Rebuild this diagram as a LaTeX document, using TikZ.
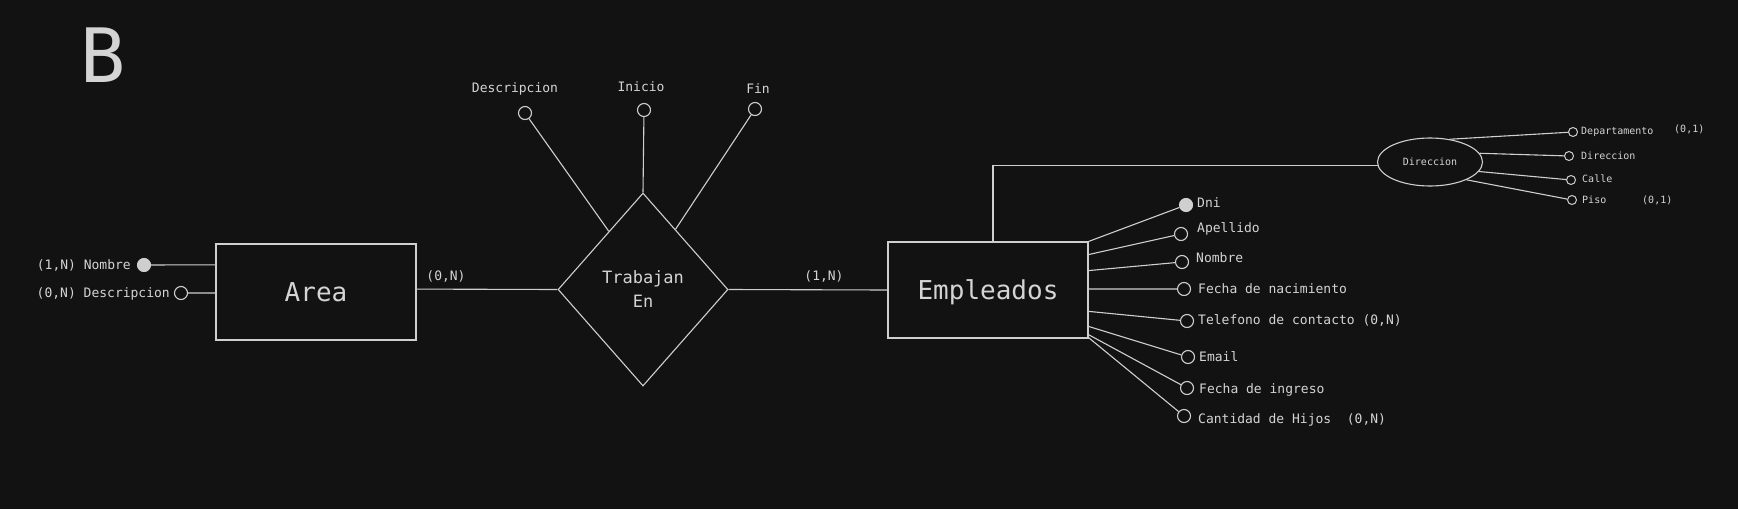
\documentclass[tikz,border=0pt]{standalone}
\usepackage{fontspec}
\setmainfont{DejaVu Sans Mono}
\setmonofont{DejaVu Sans Mono}
\usetikzlibrary{shapes.geometric,calc}
\definecolor{bgcol}{HTML}{121212}
\definecolor{lncol}{HTML}{CFCFCF}
\definecolor{txcol}{HTML}{D4D4D4}
\begin{document}
\begin{tikzpicture}[x=1pt,y=-1pt,
  link/.style={draw=lncol, line width=1.1pt},
  entity/.style={draw=lncol, line width=1.1pt, rectangle, minimum width=200pt, minimum height=96pt, inner sep=0pt, text=txcol, font=\fontsize{26}{30}\selectfont, text height=19pt, text depth=0pt},
  relation/.style={draw=lncol, line width=1.1pt, diamond, minimum width=170pt, minimum height=193pt, inner sep=0pt, align=center, text=txcol, font=\fontsize{17}{24}\selectfont},
  compattr/.style={draw=lncol, line width=1.1pt, ellipse, minimum width=105pt, minimum height=48pt, inner sep=0pt, text=txcol, font=\fontsize{10}{12}\selectfont},
  attr/.style={circle, draw=lncol, line width=1.1pt, minimum size=13pt, inner sep=0pt},
  keyattr/.style={attr, fill=lncol},
  subattr/.style={circle, draw=lncol, line width=1pt, minimum size=9pt, inner sep=0pt},
  lab/.style={inner sep=0pt, text=txcol, font=\fontsize{13}{15}\selectfont},
  slab/.style={inner sep=0pt, text=txcol, font=\fontsize{10}{12}\selectfont}
]
\fill[bgcol] (0,0) rectangle (1738,509);
\useasboundingbox (0,0) rectangle (1738,509);

% title
\node[inner sep=0pt, text=txcol, font=\fontsize{75}{80}\selectfont] (title) at (103,55.5) {B};

% entities and relation
\node[entity] (area) at (316,292) {Area};
\node[entity] (emp) at (988,290) {Empleados};
\node[relation] (rel) at (643,289.5) {Trabajan\\En};
\node[compattr] (dir) at (1430,162) {Direccion};

% Area attributes
\node[keyattr] (anom) at (144,265) {};
\node[attr] (adesc) at (181,293) {};
\node[lab, anchor=base east] (lanom) at (131,269.5) {(1,N) Nombre};
\node[lab, anchor=base east] (ladesc) at (170,297.5) {(0,N) Descripcion};
\draw[link] ($(area.north west)!0.22!(area.south west)$) -- (anom);
\draw[link] ($(area.north west)!0.51!(area.south west)$) -- (adesc);

% relation links
\draw[link] ($(area.north east)!0.47!(area.south east)$) -- (rel.west);
\draw[link] (rel.east) -- (emp.west);
\node[lab, anchor=base] (card1) at (446,280.5) {(0,N)};
\node[lab, anchor=base] (card2) at (824,280.5) {(1,N)};

% relation attributes
\node[attr] (rdesc) at (525,113) {};
\node[attr] (rini) at (644,110) {};
\node[attr] (rfin) at (755,109) {};
\draw[link] (rdesc) -- ($(rel.west)!0.6!(rel.north)$);
\draw[link] (rini) -- (rel.north);
\draw[link] (rfin) -- ($(rel.east)!0.62!(rel.north)$);
\node[lab, anchor=base] (lrdesc) at (515,92.5) {Descripcion};
\node[lab, anchor=base] (lrini) at (641,91.5) {Inicio};
\node[lab, anchor=base] (lrfin) at (758,93.5) {Fin};

% Empleados attributes
\node[keyattr] (edni) at (1186,205) {};
\node[attr] (eape) at (1181,234) {};
\node[attr] (enom) at (1182,262) {};
\node[attr] (efnac) at (1184,289) {};
\node[attr] (etel) at (1187,321) {};
\node[attr] (email) at (1188,357) {};
\node[attr] (efing) at (1187,388) {};
\node[attr] (ehij) at (1184,416) {};
\draw[link] ($(emp.north east)!0.00!(emp.south east)$) -- (edni);
\draw[link] ($(emp.north east)!0.135!(emp.south east)$) -- (eape);
\draw[link] ($(emp.north east)!0.30!(emp.south east)$) -- (enom);
\draw[link] ($(emp.north east)!0.49!(emp.south east)$) -- (efnac);
\draw[link] ($(emp.north east)!0.72!(emp.south east)$) -- (etel);
\draw[link] ($(emp.north east)!0.875!(emp.south east)$) -- (email);
\draw[link] ($(emp.north east)!0.96!(emp.south east)$) -- (efing);
\draw[link] ($(emp.north east)!0.99!(emp.south east)$) -- (ehij);
\node[lab, anchor=base west] (ledni) at (1197,207.5) {Dni};
\node[lab, anchor=base west] (leape) at (1197,232.5) {Apellido};
\node[lab, anchor=base west] (lenom) at (1196,262.5) {Nombre};
\node[lab, anchor=base west] (lefnac) at (1198,293.5) {Fecha de nacimiento};
\node[lab, anchor=base west] (letel) at (1198,324.5) {Telefono de contacto (0,N)};
\node[lab, anchor=base west] (lemail) at (1199,361.5) {Email};
\node[lab, anchor=base west] (lefing) at (1199,393.5) {Fecha de ingreso};
\node[lab, anchor=base west] (lehij) at (1198,423.5) {Cantidad de Hijos\ \ (0,N)};

% Direccion composite attribute
\coordinate (empt) at ($(emp.north west)!0.525!(emp.north east)$);
\coordinate (dirin) at (dir.-176);
\draw[link] (empt) |- (dirin);
\node[subattr] (sdep) at (1573,132) {};
\node[subattr] (sdir) at (1569,156) {};
\node[subattr] (scal) at (1571,180) {};
\node[subattr] (spis) at (1572,200) {};
\draw[link] (dir.49) -- (sdep);
\draw[link] (dir.10.6) -- (sdir);
\draw[link] (dir.-11) -- (scal);
\draw[link] (dir.-26.6) -- (spis);
\node[slab, anchor=base west] (lsdep) at (1581,134.5) {Departamento};
\node[slab, anchor=base west] (lsdepc) at (1674,132.5) {(0,1)};
\node[slab, anchor=base west] (lsdir) at (1581,159.5) {Direccion};
\node[slab, anchor=base west] (lscal) at (1582,182.5) {Calle};
\node[slab, anchor=base west] (lspis) at (1582,203.5) {Piso};
\node[slab, anchor=base west] (lspisc) at (1642,203.5) {(0,1)};
\end{tikzpicture}
\end{document}
